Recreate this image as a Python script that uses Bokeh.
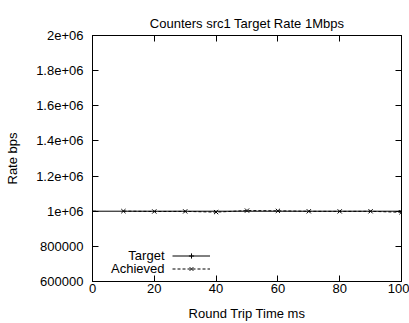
from bokeh.plotting import figure
from bokeh.models import (Range1d, FixedTicker, LinearAxis, Legend, LegendItem, Label)
from bokeh.embed import file_html
from bokeh.resources import INLINE

# Round trip time (ms) and measured rates (bps)
target_rtt_ms = [0, 100]
target_bps = [1000000, 1000000]
achieved_rtt_ms = [10, 20, 30, 40, 50, 60, 70, 80, 90, 100]
achieved_bps = [1000500, 998500, 999000, 995000, 1003500, 1002000,
                999500, 999000, 999500, 994000]

x_ticks = [0, 20, 40, 60, 80, 100]
y_ticks = [600000, 800000, 1000000, 1200000, 1400000, 1600000, 1800000, 2000000]
y_tick_labels = ["600000", "800000", "1e+06", "1.2e+06", "1.4e+06",
                 "1.6e+06", "1.8e+06", "2e+06"]

FONT = "Liberation Sans"
FS = "13px"

p = figure(width=409, height=323, output_backend="svg", toolbar_location=None,
           x_range=Range1d(0, 100), y_range=Range1d(600000, 2000000),
           min_border_left=92, min_border_right=8, min_border_top=35,
           min_border_bottom=40)
p.background_fill_color = "white"
p.border_fill_color = "white"
p.outline_line_color = "black"
p.outline_line_width = 1
p.xgrid.visible = False
p.ygrid.visible = False

p.title.text = "Counters src1 Target Rate 1Mbps"
p.title.align = "center"
p.title.text_font = FONT
p.title.text_font_size = FS
p.title.text_font_style = "normal"
p.title.text_color = "black"
p.title.standoff = 10


def style_axis(ax):
    ax.major_tick_in = 6
    ax.major_tick_out = 0
    ax.minor_tick_line_color = None
    ax.major_tick_line_color = "black"
    ax.axis_line_color = "black"
    ax.major_label_text_font = FONT
    ax.major_label_text_font_size = FS
    ax.major_label_text_color = "black"
    ax.axis_label_text_font = FONT
    ax.axis_label_text_font_size = FS
    ax.axis_label_text_font_style = "normal"
    ax.axis_label_text_color = "black"


xax = p.xaxis[0]
xax.ticker = FixedTicker(ticks=x_ticks)
xax.axis_label = "Round Trip Time ms"
xax.major_label_standoff = 2
xax.axis_label_standoff = 10
style_axis(xax)

yax = p.yaxis[0]
yax.ticker = FixedTicker(ticks=y_ticks)
yax.major_label_overrides = {t: s for t, s in zip(y_ticks, y_tick_labels)}
yax.axis_label = "Rate bps"
yax.major_label_standoff = 9
yax.axis_label_standoff = 13
style_axis(yax)

# mirrored ticks on the top and right edges, without labels
top = LinearAxis(ticker=FixedTicker(ticks=x_ticks))
style_axis(top)
top.major_label_overrides = {t: "" for t in x_ticks}
top.major_label_text_font_size = "1px"
top.major_label_standoff = 0
p.add_layout(top, "above")
right = LinearAxis(ticker=FixedTicker(ticks=y_ticks))
style_axis(right)
right.major_label_overrides = {t: "" for t in y_ticks}
right.major_label_text_font_size = "1px"
right.major_label_standoff = 0
p.add_layout(right, "right")

t_line = p.line(target_rtt_ms, target_bps, line_color="black", line_width=1)
t_pts = p.scatter(target_rtt_ms, target_bps, marker="cross", size=7,
                  line_color="black", line_width=1)
a_line = p.line(achieved_rtt_ms, achieved_bps, line_color="black",
                line_width=1, line_dash="3 2")
a_pts = p.scatter(achieved_rtt_ms, achieved_bps, marker="x", size=6,
                  line_color="black", line_width=1)

legend = Legend(items=[LegendItem(label="", renderers=[t_line, t_pts]),
                       LegendItem(label="", renderers=[a_line, a_pts])],
                location=(80, 6), glyph_width=38, glyph_height=13,
                label_height=13, label_width=0, label_standoff=0,
                spacing=0, padding=0, margin=0,
                border_line_color=None, background_fill_alpha=0)
p.add_layout(legend)

# legend captions sit to the left of their samples
for name, yv in [("Target", 746800), ("Achieved", 673400)]:
    p.add_layout(Label(x=23.3, y=yv, text=name, text_align="right",
                       text_baseline="middle", text_font=FONT,
                       text_font_size=FS, text_color="black"))

open("out.html", "w").write(file_html(p, INLINE))
